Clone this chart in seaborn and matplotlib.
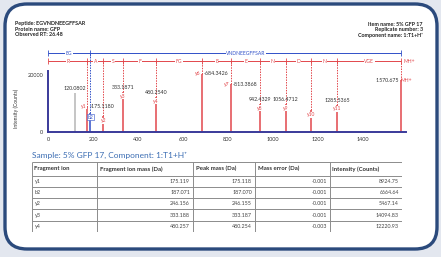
import matplotlib.pyplot as plt
from matplotlib.patches import FancyBboxPatch
import seaborn as sns

# spectrum peaks (m/z, counts)
peak_mz = [120.0802, 175.1180, 187.0700, 246.1550, 333.1871, 480.2540, 684.3426,
           813.3868, 942.4329, 1056.4712, 1170.5100, 1285.5365, 1570.6750]
peak_int = [13800, 8924.75, 6664.64, 5467.14, 14094.83, 12220.93, 20500,
            16800, 9800, 9800, 7600, 9600, 18200]
peak_ion = ['', 'y1', 'b2', 'y2', 'y3', 'y4', 'y6', 'y7', 'y8', 'y9', 'y10', 'y11', 'MH+']
peak_text = ['120.0802', '175.1180', '', '', '333.1871', '480.2540', '684.3426',
             '813.3868', '942.4329', '1056.4712', '', '1285.5365', '1570.675']

# fragment ladders
y_ladder_mz = [0, 175.119, 246.156, 333.188, 480.257, 684.342, 813.387, 942.433,
               1056.471, 1170.514, 1285.541, 1570.675]
y_ladder_res = ['R', 'A', 'S', 'F', 'FG', 'E', 'E', 'N', 'D', 'N', 'VGE']
b_ladder_mz = [0, 187.071, 1570.675]
b_ladder_res = ['EG', 'VNDNEEGFFSAR']

# table
tbl_header = ['Fragment ion', 'Fragment ion mass (Da)', 'Peak mass (Da)',
              'Mass error (Da)', 'Intensity (Counts)']
frag_ion = ['y1', 'b2', 'y2', 'y3', 'y4']
frag_mass = [175.119, 187.071, 246.156, 333.188, 480.257]
peak_mass = [175.118, 187.070, 246.155, 333.187, 480.254]
mass_err = [-0.001, -0.001, -0.001, -0.001, -0.003]
intensity = [8924.75, 6664.64, 5467.14, 14094.83, 12220.93]

sns.set_theme(style='white')
plt.rcParams['font.family'] = ['Lato', 'DejaVu Sans']

RED = '#e2474b'
BLUE = '#3050c8'
NAVY = '#2b4a7c'
AXC = '#3a3a9a'

fig = plt.figure(figsize=(4.41, 2.57), dpi=100)
fig.patch.set_facecolor('#e3e7ef')

# frame in pixel coordinates
bg = fig.add_axes([0, 0, 1, 1])
bg.set_xlim(0, 441)
bg.set_ylim(257, 0)
bg.axis('off')
bg.add_patch(FancyBboxPatch((5, 4), 432, 245, boxstyle='round,pad=0,rounding_size=22',
                            fc='white', ec=NAVY, lw=2.4))

hdr = dict(fontsize=3.9, fontweight='bold', color='#222222', va='center')
bg.text(15, 24, 'Peptide: EGVNDNEEGFFSAR', ha='left', **hdr)
bg.text(15, 29.5, 'Protein name: GFP', ha='left', **hdr)
bg.text(15, 35, 'Observed RT: 26.48', ha='left', **hdr)
bg.text(423, 24, 'Item name: 5% GFP 17', ha='right', **hdr)
bg.text(423, 29.5, 'Replicate number: 3', ha='right', **hdr)
bg.text(423, 35.5, 'Component name: 1:T1+H⁺', ha='right', **hdr)

bg.text(32, 155, 'Sample: 5% GFP 17, Component: 1:T1+H⁺', fontsize=6.0,
        color='#3b6db3', ha='left', va='center')

# spectrum
ax = fig.add_axes([48 / 441, 125 / 257, 357.75 / 441, 85.5 / 257])
ax.set_facecolor('none')
ax.set_xlim(0, 1590)
ax.set_ylim(0, 30000)
red_lvl, blue_lvl = 24900, 27700

colors = []
for ion in peak_ion:
    if ion == '':
        colors.append('#b5b5b5')
    elif ion.startswith('b'):
        colors.append(BLUE)
    else:
        colors.append(RED)

# dotted guide lines from the ladders down to matched peaks
for mz, h, ion in zip(peak_mz, peak_int, peak_ion):
    if ion == '':
        continue
    lvl = blue_lvl if ion.startswith('b') else red_lvl
    col = BLUE if ion.startswith('b') else RED
    ax.vlines(mz, h, lvl, colors=col, linestyles=(0, (1.5, 1.2)), lw=0.7, zorder=1)

ax.vlines(peak_mz, 0, peak_int, colors=colors, lw=1.1, zorder=2)

right_lab = {'y1', 'y6', 'y7'}
for mz, h, ion, txt, col in zip(peak_mz, peak_int, peak_ion, peak_text, colors):
    if ion in right_lab:
        ax.text(mz - 5, h, ion, fontsize=3.6, color=col, ha='right', va='center',
                bbox=dict(fc='white', ec='none', pad=0.3), zorder=4)
        ax.text(mz + 8, h, '-' + txt, fontsize=3.8, color='#333333', ha='left',
                va='center', zorder=4)
    elif ion == 'MH+':
        ax.text(mz - 6, h, txt + ' ', fontsize=3.8, color='#333333', ha='right',
                va='center', zorder=4)
        ax.text(mz - 6, h, 'MH+', fontsize=3.6, color=col, ha='left', va='center', zorder=4)
    else:
        if txt:
            ax.text(mz, h + 700, txt, fontsize=3.8, color='#333333', ha='center',
                    va='bottom', zorder=4)
        if ion:
            box = dict(fc='white', ec=BLUE if ion.startswith('b') else 'none', lw=0.4, pad=0.4)
            ax.text(mz, h - 1500, ion, fontsize=3.6, color=col, ha='center',
                    va='center', bbox=box, zorder=4)

# ladders
for lvl, ticks, res, col in [(red_lvl, y_ladder_mz, y_ladder_res, RED),
                             (blue_lvl, b_ladder_mz, b_ladder_res, BLUE)]:
    ax.hlines(lvl, ticks[0], ticks[-1], colors=col, lw=0.7, clip_on=False)
    ax.vlines(ticks, lvl - 900, lvl + 900, colors=col, lw=0.6, clip_on=False)
    for a, b, r in zip(ticks[:-1], ticks[1:], res):
        ax.text((a + b) / 2, lvl, r, fontsize=3.6, color=col, ha='center', va='center',
                bbox=dict(fc='white', ec='none', pad=0.4), zorder=4)
ax.text(1578, red_lvl, 'MH+', fontsize=3.6, color=RED, ha='left', va='center')

sns.despine(ax=ax)
ax.spines['left'].set_bounds(0, 21500)
for s in ('left', 'bottom'):
    ax.spines[s].set_color(AXC)
    ax.spines[s].set_linewidth(1.4)
ax.set_xticks(range(0, 1600, 200))
ax.set_yticks([0, 20000])
ax.set_yticklabels(['0', '20000'])
ax.tick_params(axis='both', labelsize=4, colors='#333333', length=1.5, width=0.6, pad=2)
ax.set_ylabel('Intensity (Counts)', fontsize=3.6, labelpad=4, color='#333333')
ax.yaxis.set_label_coords(-0.08, 0.27)

# table
tx = fig.add_axes([32 / 441, 25 / 257, 370 / 441, 70 / 257])
tx.set_xlim(32, 402)
tx.set_ylim(232, 162)
tx.axis('off')
col_x = [32, 97, 193, 255, 330, 402]
row_y = [162, 175.5, 186.8, 198.1, 209.4, 220.7, 232]
tx.hlines(row_y, col_x[0], col_x[-1], colors='#8c8c8c', lw=0.7)
tx.vlines(col_x, row_y[0], row_y[-1], colors='#8c8c8c', lw=0.7)
for i, h in enumerate(tbl_header):
    tx.text(col_x[i] + 2.5, (row_y[0] + row_y[1]) / 2, h, fontsize=4.3,
            fontweight='bold', color='#333333', ha='left', va='center')
rows = zip(frag_ion, frag_mass, peak_mass, mass_err, intensity)
for r, (ion, fm, pm, me, it) in enumerate(rows):
    yc = (row_y[r + 1] + row_y[r + 2]) / 2
    vals = [ion, f'{fm:.3f}', f'{pm:.3f}', f'{me:.3f}', f'{it:.2f}']
    for c, v in enumerate(vals):
        if c == 0:
            tx.text(col_x[0] + 2.5, yc, v, fontsize=3.9, color='#444444', ha='left', va='center')
        else:
            tx.text(col_x[c + 1] - 3, yc, v, fontsize=3.9, color='#444444', ha='right', va='center')

fig.savefig('out.png', dpi=100, facecolor=fig.get_facecolor())
